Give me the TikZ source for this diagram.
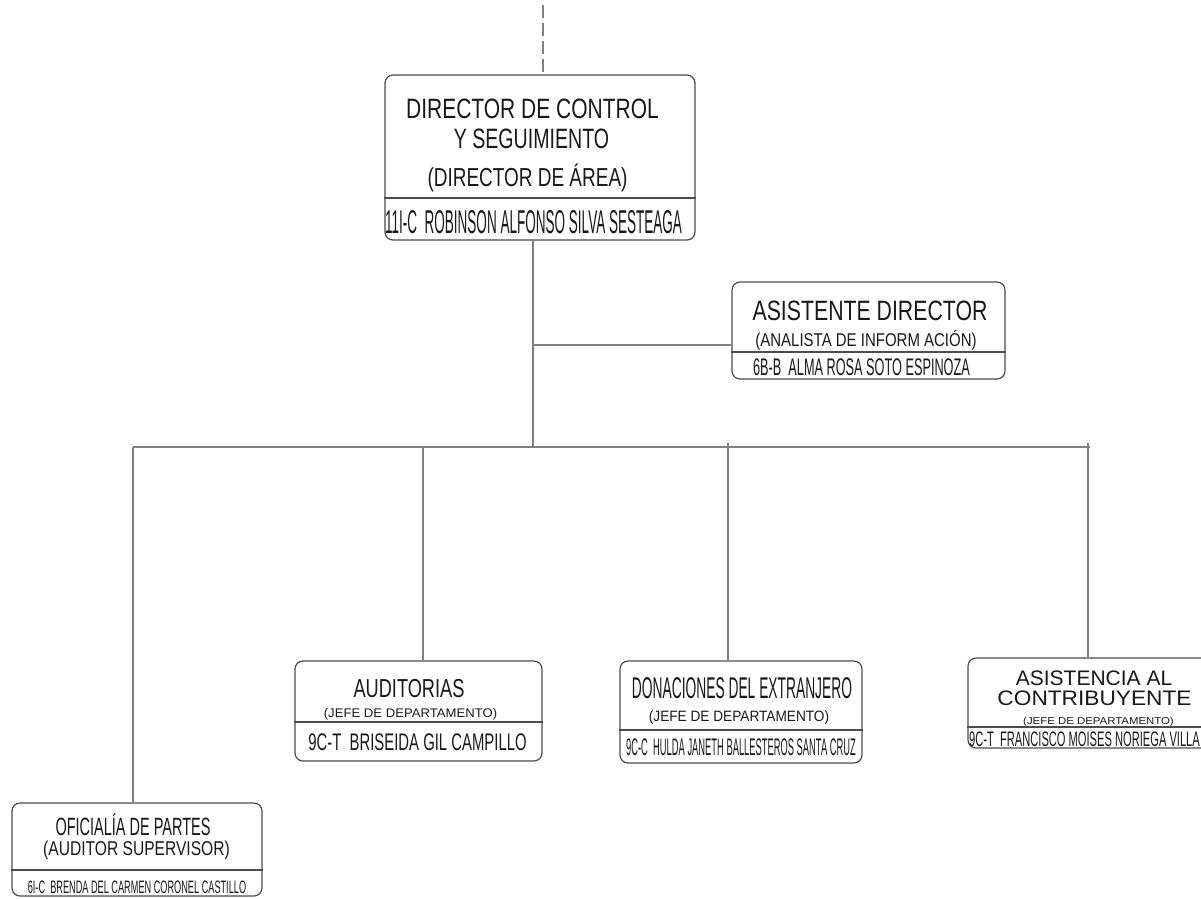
\documentclass[tikz,border=0pt]{standalone}
\usepackage{fontspec}
\setmainfont{Liberation Sans}
\newcommand{\fnt}[2]{\fontsize{#1}{#1}\selectfont\addfontfeatures{FakeStretch=#2}}

\begin{document}
\begin{tikzpicture}[x=1pt,y=-1pt,
  box/.style={draw=black!70, line width=1.2pt, rounded corners=8pt, inner sep=0pt},
  divl/.style={black!70, line width=1.2pt},
  lbl/.style={inner sep=0pt, anchor=base, text=black!90},
  conn/.style={black!50, line width=1.5pt}]
\useasboundingbox (0,0) rectangle (1201,898);
\clip (0,0) rectangle (1201,898);

% boxes
\node[box, minimum width=310, minimum height=165] (dir) at (540,157.5) {};
\node[box, minimum width=273, minimum height=97] (asis) at (868.5,330.5) {};
\node[box, minimum width=247, minimum height=100] (aud) at (418.5,711) {};
\node[box, minimum width=242, minimum height=102] (don) at (741,712) {};
\node[box, minimum width=252, minimum height=90] (cont) at (1094,703) {};
\node[box, minimum width=250, minimum height=93] (ofi) at (137,849.5) {};

\foreach \b/\y in {dir/198, asis/352, aud/722, don/730, cont/727, ofi/870}
  \draw[divl] (\b.west |- 0,\y) -- (\b.east |- 0,\y);

% texts
\node[lbl, font=\fnt{28}{0.75}] (dirA) at (532.5,118) {DIRECTOR DE CONTROL};
\node[lbl, font=\fnt{28}{0.70}] (dirB) at (531.5,148) {Y SEGUIMIENTO};
\node[lbl, font=\fnt{26}{0.73}] (dirC) at (527.5,186.5) {(DIRECTOR DE ÁREA)};
\node[lbl, font=\fnt{33}{0.41}] (dirN) at (533.5,233) {11I-C\ \ ROBINSON ALFONSO SILVA SESTEAGA};

\node[lbl, font=\fnt{28}{0.76}] (asisA) at (870,320) {ASISTENTE DIRECTOR};
\node[lbl, font=\fnt{18.5}{0.81}] (asisB) at (866,346) {(ANALISTA DE INFORM ACIÓN)};
\node[lbl, font=\fnt{24}{0.53}] (asisN) at (861.5,375) {6B-B\ \ ALMA ROSA SOTO ESPINOZA};

\node[lbl, font=\fnt{26}{0.70}] (audA) at (409,697) {AUDITORIAS};
\node[lbl, font=\fnt{12.5}{1.05}] (audB) at (410.5,717) {(JEFE DE DEPARTAMENTO)};
\node[lbl, font=\fnt{24}{0.62}] (audN) at (417.5,750) {9C-T\ \ BRISEIDA GIL CAMPILLO};

\node[lbl, font=\fnt{30}{0.46}] (donA) at (742,698) {DONACIONES DEL EXTRANJERO};
\node[lbl, font=\fnt{15}{0.91}] (donB) at (739,721.5) {(JEFE DE DEPARTAMENTO)};
\node[lbl, font=\fnt{24}{0.39}] (donN) at (741,755) {9C-C\ \ HULDA JANETH BALLESTEROS SANTA CRUZ};

\node[lbl, font=\fnt{21}{1.0}] (contA) at (1094,685) {ASISTENCIA AL};
\node[lbl, font=\fnt{21}{1.08}] (contB) at (1094.5,705) {CONTRIBUYENTE};
\node[lbl, font=\fnt{10}{1.14}] (contC) at (1098.5,724.5) {(JEFE DE DEPARTAMENTO)};
\node[lbl, font=\fnt{21}{0.53}] (contN) at (1084.5,746) {9C-T\ \ FRANCISCO MOISES NORIEGA VILLA};

\node[lbl, font=\fnt{25}{0.58}] (ofiA) at (133,835) {OFICIALÍA DE PARTES};
\node[lbl, font=\fnt{20}{0.78}] (ofiB) at (136.5,855) {(AUDITOR SUPERVISOR)};
\node[lbl, font=\fnt{18}{0.51}] (ofiN) at (137,893) {6I-C\ \ BRENDA DEL CARMEN CORONEL CASTILLO};

% connectors
\coordinate (top) at (543,0);
\draw[conn, dash pattern=on 13pt off 5pt, dash phase=13pt] (top) -- (dir.north -| top);
\coordinate (bus) at (533,447);
\draw[conn] (dir.south -| bus) -- (bus);
\draw[conn] (bus |- 0,345) -- (asis.west |- 0,345);
\coordinate (busL) at (133,447);
\coordinate (busR) at (1090,447);
\draw[conn] (busL) -- (busR);
\foreach \b/\x/\o in {ofi/133/0, aud/423/0, don/728/4, cont/1088/4}
  \draw[conn] ([yshift=\o pt]bus -| \x,0) -- (\b.north -| \x,0);

\end{tikzpicture}
\end{document}
